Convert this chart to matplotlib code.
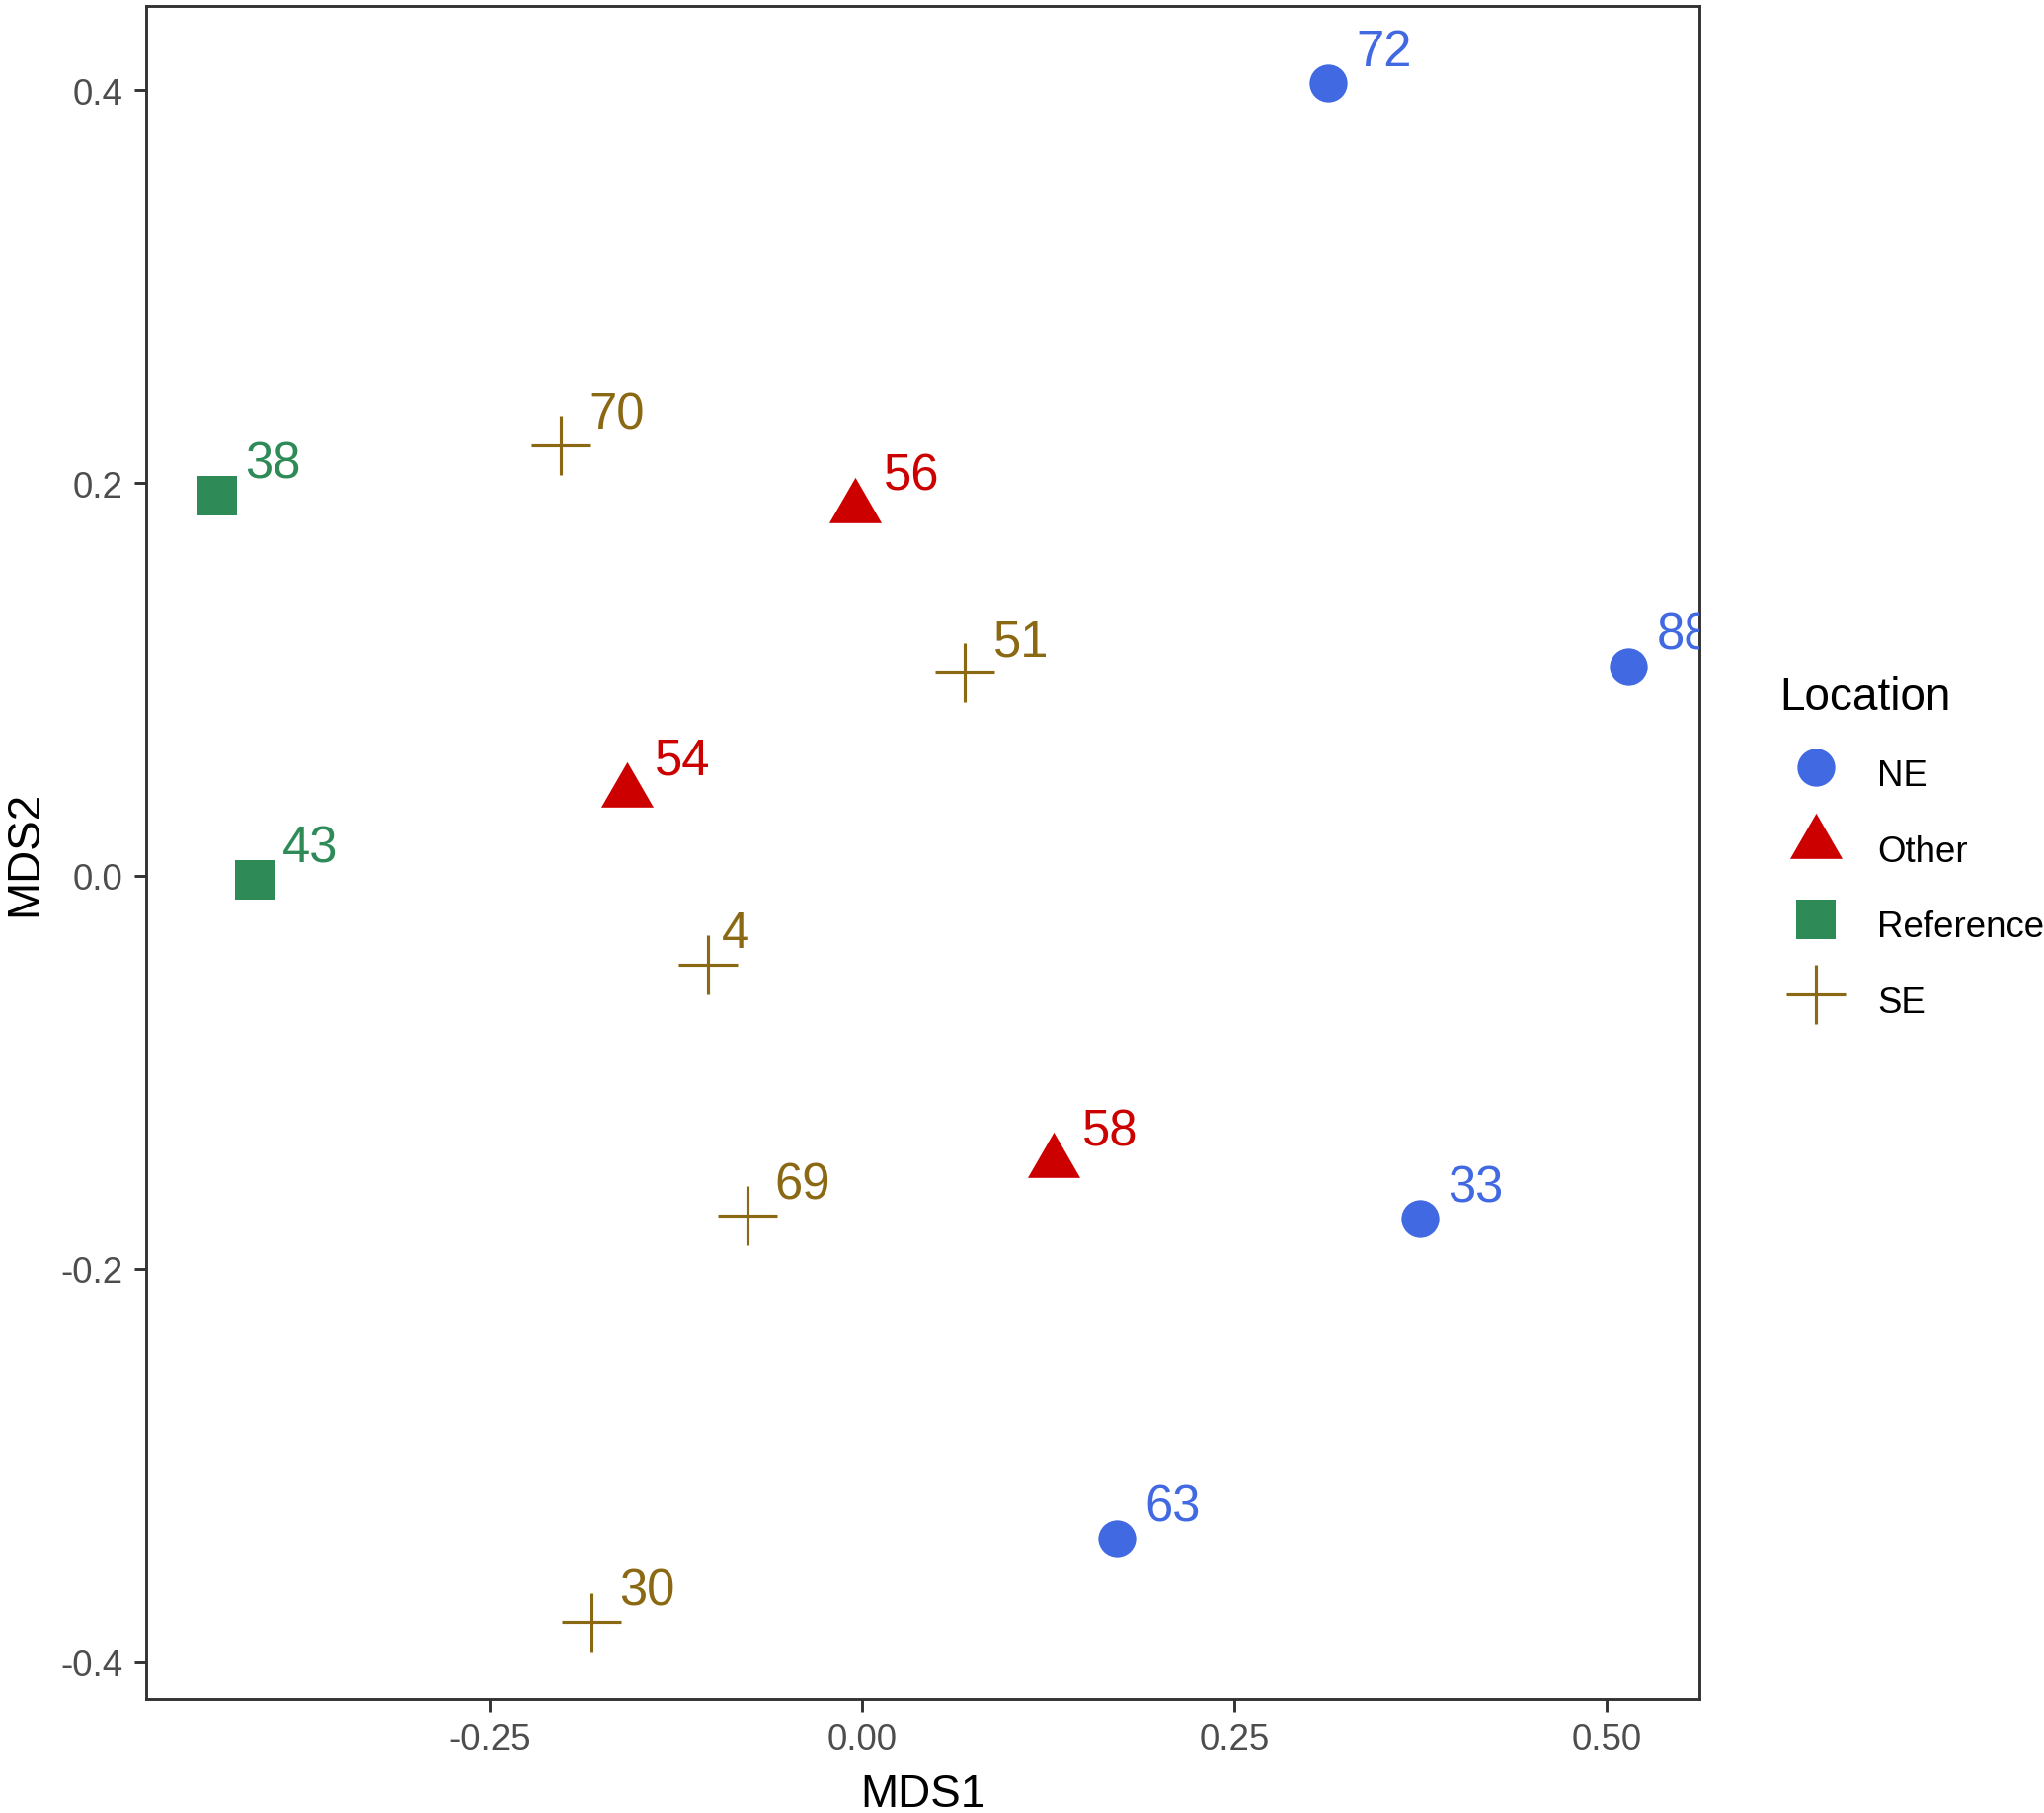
import matplotlib
matplotlib.use("Agg")
import matplotlib.pyplot as plt
import numpy as np

plt.rcParams['font.family'] = ['Liberation Sans', 'DejaVu Sans']

# NMDS scores, one set of lists per location
ne_ids = ["72", "88", "33", "63"]
ne_x = [0.313, 0.515, 0.3746, 0.171]
ne_y = [0.4037, 0.1066, -0.1746, -0.3374]

other_ids = ["56", "54", "58"]
other_x = [-0.0043, -0.158, 0.129]
other_y = [0.1875, 0.0428, -0.146]

ref_ids = ["38", "43"]
ref_x = [-0.4334, -0.408]
ref_y = [0.1937, -0.002]

se_ids = ["70", "51", "4", "69", "30"]
se_x = [-0.2023, 0.0693, -0.1034, -0.0772, -0.1816]
se_y = [0.219, 0.1033, -0.0452, -0.1732, -0.3801]

groups = ["NE", "Other", "Reference", "SE"]

# R-style equilateral triangle (pch 17), centred on its centroid
tri = [(0, 1.5551), (1.3468, -0.7776), (-1.3468, -0.7776), (0, 1.5551)]

styles = {
    "NE": dict(marker="o", color="#4169E1", ms=9.2, mew=0),
    "Other": dict(marker=tri, color="#CD0000", ms=14.7, mew=0),
    "Reference": dict(marker="s", color="#2E8B57", ms=9.8, mew=0),
    "SE": dict(marker="+", color="#8B6914", ms=14.4, mew=0.75),
}
data = {
    "NE": (ne_ids, ne_x, ne_y),
    "Other": (other_ids, other_x, other_y),
    "Reference": (ref_ids, ref_x, ref_y),
    "SE": (se_ids, se_x, se_y),
}

fig = plt.figure(figsize=(6.9, 6.1233), dpi=300)
ax = fig.add_axes([0.0715, 0.0626, 0.8314 - 0.0715, 0.9962 - 0.0626])

lab_size = 12.2
handles = []
for g in groups:
    ids, xs, ys = data[g]
    st = styles[g]
    h, = ax.plot(xs, ys, linestyle="none", marker=st["marker"], ms=st["ms"],
                 mew=st["mew"], color=st["color"], mfc=st["color"], mec=st["color"])
    handles.append(h)
    for s, x, y in zip(ids, xs, ys):
        # hjust=-0.5 / vjust=-0.5 like ggplot: shift by half the text size
        dx = 0.5 * len(s) * 0.556 * lab_size
        dy = 0.5 * 0.716 * lab_size
        ax.annotate(s, (x, y), xytext=(dx, dy), textcoords="offset points",
                    ha="left", va="baseline", fontsize=lab_size,
                    color=st["color"], clip_on=True)

ax.margins(0.05)
ax.set_xticks([-0.25, 0.0, 0.25, 0.5])
ax.set_xticklabels(["-0.25", "0.00", "0.25", "0.50"])
ax.set_yticks([-0.4, -0.2, 0.0, 0.2, 0.4])
ax.set_yticklabels(["-0.4", "-0.2", "0.0", "0.2", "0.4"])

for sp in ax.spines.values():
    sp.set_color("#333333")
    sp.set_linewidth(0.7)
ax.tick_params(length=3.0, width=0.7, color="#333333", labelcolor="#4D4D4D",
               labelsize=8.8, pad=2.6)

ax.set_xlabel("MDS1", fontsize=11, color="black", labelpad=3.8)
ax.set_ylabel("MDS2", fontsize=11, color="black", labelpad=3.5)

# legend title drawn on its own so its gap to the keys matches ggplot
fig.text(0.8705, 0.6088, "Location", ha="left", va="baseline", fontsize=11)
leg = fig.legend(handles, groups, loc="center left",
                 bbox_to_anchor=(0.8705, 0.5106), frameon=False, fontsize=8.8,
                 handlelength=2.0, handleheight=1.6,
                 labelspacing=0.81, handletextpad=0.7, borderpad=0,
                 borderaxespad=0)

fig.savefig("out.png", dpi=300)
